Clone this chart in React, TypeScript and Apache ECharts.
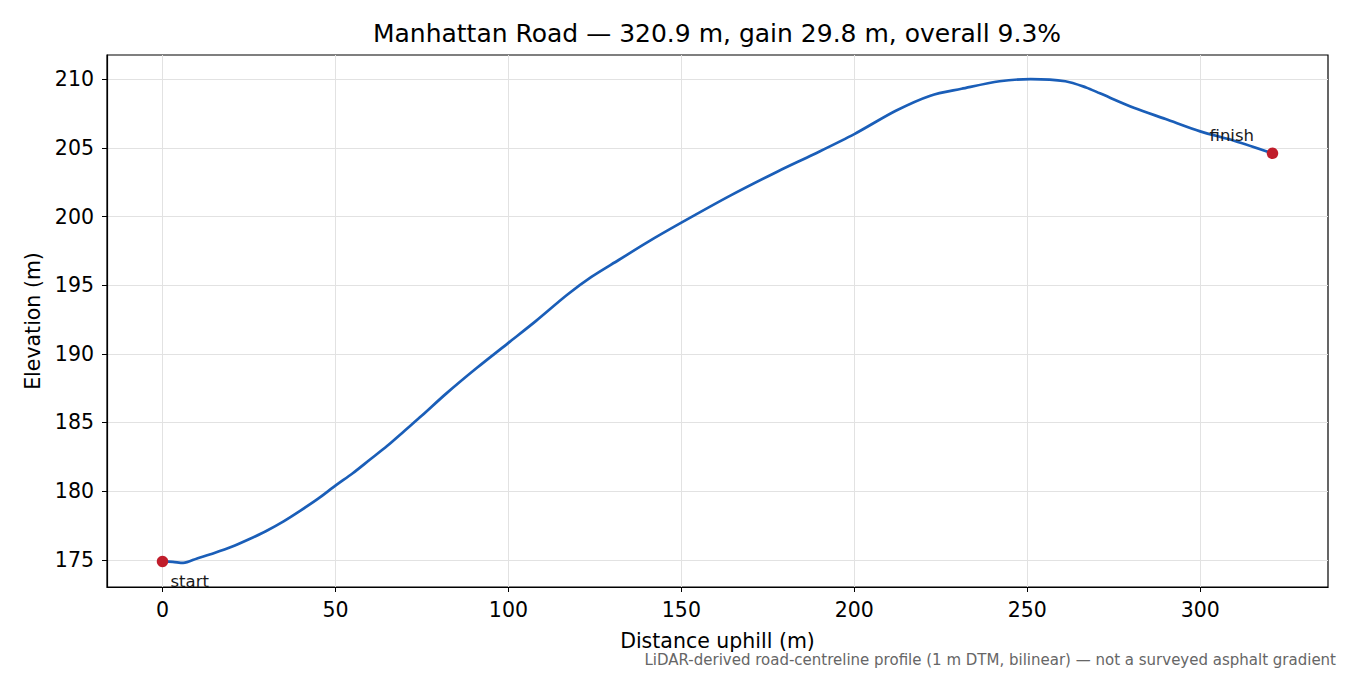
import { useEffect, useRef } from 'react';
import * as echarts from 'echarts';

// distance uphill (m) and elevation (m)
const distances = [
  0, 3, 6, 10, 15, 20, 25, 30, 35, 40, 45, 50, 55, 60, 65, 70, 75, 82, 91, 100, 108, 117, 124,
  132, 140, 150, 164, 178, 188, 200, 212, 222, 231, 242, 251, 261, 267, 271, 281, 290, 300, 310,
  320.9,
];
const elevations = [
  174.88, 174.85, 174.78, 175.1, 175.5, 175.95, 176.5, 177.1, 177.8, 178.6, 179.45, 180.4, 181.3,
  182.3, 183.3, 184.4, 185.5, 187.1, 189.0, 190.8, 192.4, 194.3, 195.6, 196.85, 198.1, 199.55,
  201.5, 203.3, 204.5, 206.0, 207.7, 208.8, 209.3, 209.85, 210.0, 209.85, 209.4, 208.97, 207.9,
  207.1, 206.2, 205.5, 204.6,
];

const endpointNames = ['start', 'finish'];
const xTicks = [0, 50, 100, 150, 200, 250, 300];
const yTicks = [175, 180, 185, 190, 195, 200, 205, 210];

const FONT = 'DejaVu Sans';
const LINE_COLOR = '#1a5eb8';
const POINT_COLOR = '#c01d2b';
const GRID_COLOR = '#e2e2e2';

export default function App() {
  const ref = useRef<HTMLDivElement>(null);

  useEffect(() => {
    if (!ref.current) return;
    const chart = echarts.init(ref.current, undefined, { renderer: 'svg' });

    const last = distances.length - 1;
    const xMin = -0.05 * distances[last];
    const xMax = distances[last] * 1.05;
    const eMin = Math.min(...elevations);
    const eMax = Math.max(...elevations);
    const pad = (eMax - eMin) * 0.05;

    chart.setOption({
      animation: false,
      textStyle: { fontFamily: FONT },
      title: {
        text: 'Manhattan Road — 320.9 m, gain 29.8 m, overall 9.3%',
        left: 712,
        textAlign: 'center',
        top: 16,
        textStyle: { fontFamily: FONT, fontSize: 25, fontWeight: 'normal', color: '#000' },
      },
      grid: { left: 107, right: 22, top: 55, bottom: 88, show: true, borderColor: '#000', borderWidth: 1.2, backgroundColor: 'transparent' },
      xAxis: {
        type: 'value',
        min: xMin,
        max: xMax,
        name: 'Distance uphill (m)',
        nameLocation: 'middle',
        nameGap: 43,
        nameTextStyle: { fontFamily: FONT, fontSize: 20.5, color: '#000' },
        axisLine: { show: true, onZero: false, lineStyle: { color: '#000', width: 1.2 } },
        axisTick: { show: true, length: 5, customValues: xTicks, lineStyle: { color: '#000' } },
        axisLabel: { customValues: xTicks, fontFamily: FONT, fontSize: 20.5, color: '#000', margin: 12 },
        splitLine: { show: true, lineStyle: { color: GRID_COLOR, width: 1 } },
      },
      yAxis: {
        type: 'value',
        min: eMin - pad,
        max: eMax + pad,
        name: 'Elevation (m)',
        nameLocation: 'middle',
        nameGap: 62,
        nameTextStyle: { fontFamily: FONT, fontSize: 20.5, color: '#000' },
        axisLine: { show: true, onZero: false, lineStyle: { color: '#000', width: 1.2 } },
        axisTick: { show: true, length: 5, customValues: yTicks, lineStyle: { color: '#000' } },
        axisLabel: { customValues: yTicks, fontFamily: FONT, fontSize: 20.5, color: '#000', margin: 13 },
        splitLine: { show: true, lineStyle: { color: GRID_COLOR, width: 1 } },
      },
      series: [
        {
          type: 'line',
          data: distances.map((d, i) => [d, elevations[i]]),
          showSymbol: false,
          smooth: 0.3,
          lineStyle: { color: LINE_COLOR, width: 2.7 },
          z: 2,
        },
        {
          type: 'scatter',
          symbolSize: 11.5,
          itemStyle: { color: POINT_COLOR, opacity: 1 },
          z: 3,
          label: {
            show: true,
            position: 'inside',
            align: 'left',
            verticalAlign: 'middle',
            fontFamily: FONT,
            fontSize: 16.5,
            color: '#1a1a1a',
            formatter: (p: any) => p.name,
          },
          data: [
            {
              name: endpointNames[0],
              value: [distances[0], elevations[0]],
              label: { offset: [8, 20] },
            },
            {
              name: endpointNames[1],
              value: [distances[last], elevations[last]],
              label: { offset: [-63, -18] },
            },
          ],
        },
      ],
      graphic: [
        {
          type: 'text',
          right: 14,
          top: 652,
          style: {
            text: 'LiDAR-derived road-centreline profile (1 m DTM, bilinear) — not a surveyed asphalt gradient',
            fontFamily: FONT,
            fontSize: 15,
            fill: '#666',
          },
        },
      ],
    });

    return () => {
      chart.dispose();
    };
  }, []);

  return <div ref={ref} style={{ width: 1350, height: 675, position: 'absolute', left: 0, top: 0, background: '#fff' }} />;
}
